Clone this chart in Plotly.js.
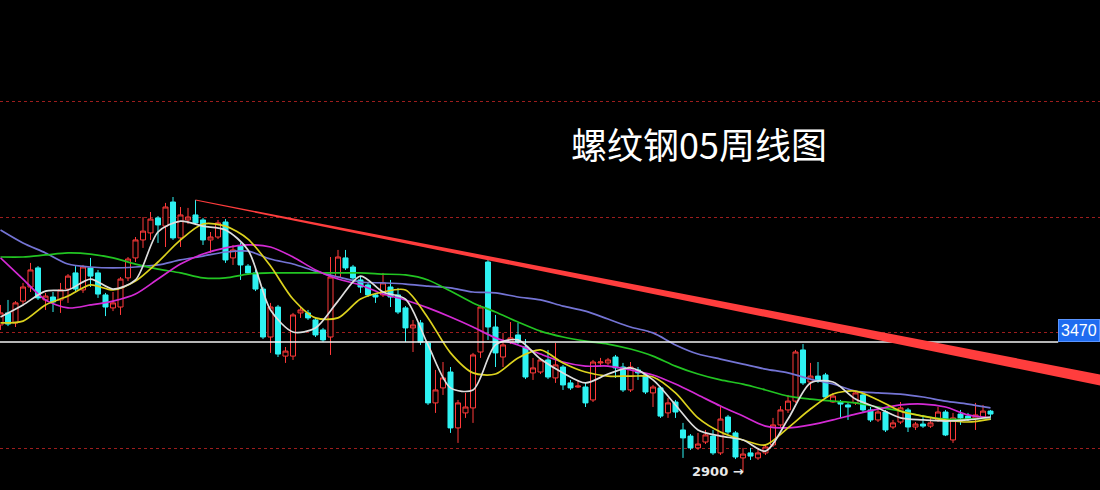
<!DOCTYPE html>
<html>
<head>
<meta charset="utf-8">
<script src="https://cdn.plot.ly/plotly-3.0.1.min.js"></script>
<style>
  html, body { margin: 0; padding: 0; background: #000; }
  #chart { width: 1100px; height: 490px; }
</style>
</head>
<body>
<div id="chart"></div>
<script>
// Weekly OHLC, rebar 05 contract (one entry per week, oldest first)
const open = [3545,3598,3554,3650,3712,3796,3655,3668,3655,3703,3774,3699,3796,3774,3677,3620,3624,3752,3840,3919,
  3950,4016,3980,4086,3928,4007,4029,4007,3919,3932,3998,3840,3892,3804,3774,3703,3492,3624,3408,3408,
  3598,3598,3567,3523,3492,3756,3840,3800,3743,3721,3677,3677,3712,3677,3620,3532,3554,3466,3202,3268,
  3338,3092,3158,3180,3426,3822,3536,3404,3470,3501,3448,3334,3338,3391,3312,3360,3290,3272,3272,3215,
  3378,3378,3404,3360,3259,3347,3325,3246,3268,3158,3206,3083,3056,3004,3030,3056,2982,3140,3070,2960,
  2982,2960,2982,3017,3105,3171,3210,3435,3294,3320,3325,3206,3206,3193,3202,3237,3171,3127,3162,3096,
  3118,3171,3096,3109,3100,3127,3162,3039,3153,3144,3136,3140,3166];
const high = [3633,3655,3650,3730,3818,3804,3686,3690,3730,3769,3804,3809,3840,3787,3686,3690,3756,3844,3932,4020,
  4042,4024,4082,4108,4064,4060,4095,4016,3954,4007,4011,3897,3906,3813,3787,3712,3642,3633,3448,3598,
  3624,3611,3580,3532,3844,3875,3875,3809,3756,3730,3686,3774,3743,3708,3628,3567,3567,3474,3347,3382,
  3360,3215,3246,3422,3633,3831,3589,3510,3558,3554,3483,3400,3400,3435,3466,3369,3303,3303,3294,3391,
  3400,3400,3413,3378,3382,3360,3334,3281,3276,3224,3215,3114,3065,3070,3083,3083,3184,3149,3078,3004,
  3004,3004,3017,3136,3188,3237,3435,3461,3378,3382,3334,3246,3215,3202,3254,3246,3184,3171,3171,3127,
  3206,3180,3118,3149,3136,3184,3171,3158,3171,3158,3202,3193,3171];
const low = [3523,3540,3536,3637,3690,3655,3611,3602,3598,3642,3694,3686,3712,3664,3584,3606,3589,3738,3822,3884,
  3919,3906,3888,3919,3888,3989,3985,3897,3862,3923,3818,3809,3743,3765,3694,3483,3422,3404,3378,3391,
  3576,3567,3492,3470,3413,3752,3787,3743,3686,3668,3642,3668,3624,3593,3470,3426,3457,3193,3158,3237,
  3070,3026,3136,3114,3400,3479,3360,3360,3461,3461,3307,3303,3329,3307,3290,3259,3259,3268,3184,3206,
  3360,3369,3312,3250,3250,3303,3241,3184,3136,3136,3136,2960,2995,2995,3021,2973,2973,3065,2955,2900,
  2951,2951,2973,3008,3096,3158,3202,3281,3259,3290,3219,3202,3136,3127,3193,3162,3118,3118,3074,3087,
  3109,3074,3083,3092,3092,3118,3056,3026,3105,3122,3083,3131,3127];
const close = [3598,3549,3642,3712,3787,3664,3672,3646,3699,3760,3703,3800,3760,3681,3624,3642,3747,3835,3919,3958,
  4011,3985,4064,3928,4029,4020,3994,3919,3932,3994,3831,3875,3809,3774,3703,3492,3624,3417,3430,3589,
  3611,3576,3501,3479,3756,3844,3796,3752,3712,3677,3668,3730,3668,3602,3532,3545,3470,3202,3259,3312,
  3092,3202,3184,3413,3624,3536,3422,3457,3488,3470,3316,3356,3391,3316,3369,3281,3268,3276,3202,3382,
  3382,3391,3356,3259,3360,3334,3250,3272,3144,3202,3162,3048,3004,3021,3061,2982,3131,3074,2964,2977,
  2968,2982,3008,3105,3171,3210,3426,3290,3320,3303,3228,3232,3197,3184,3246,3171,3127,3162,3083,3114,
  3180,3096,3109,3100,3114,3162,3061,3136,3136,3131,3149,3166,3153];

// Moving averages, read every third week
const ma5  = [3580,3633,3694,3699,3747,3703,3743,3954,4002,3980,3963,3875,3611,3514,3532,3650,3760,3690,3659,3457,
  3268,3259,3457,3479,3395,3334,3290,3329,3356,3303,3193,3083,3056,3039,2990,3131,3290,3294,3219,3180,
  3136,3127,3122,3127,3140];
const ma10 = [3554,3562,3633,3672,3721,3699,3738,3822,3919,3989,3980,3923,3804,3659,3576,3576,3659,3690,3699,3576,
  3422,3334,3329,3400,3435,3378,3338,3320,3320,3316,3246,3136,3074,3039,3017,3092,3175,3241,3254,3215,
  3166,3144,3127,3118,3131];
const ma20 = [3840,3747,3655,3620,3633,3650,3681,3747,3813,3857,3884,3897,3888,3844,3787,3747,3721,3681,3655,3620,
  3580,3536,3488,3457,3417,3382,3364,3364,3347,3325,3285,3237,3188,3144,3100,3092,3105,3127,3153,3175,
  3193,3197,3184,3149,3136];
const ma40 = [3844,3844,3853,3862,3857,3840,3813,3791,3774,3752,3752,3769,3774,3774,3774,3774,3774,3769,3765,3743,
  3694,3642,3602,3558,3518,3492,3474,3461,3439,3408,3364,3329,3303,3285,3259,3232,3219,3210,3202,3184,
  3166,3144,3131,3131,3136];
const ma60 = [3963,3906,3862,3813,3800,3796,3800,3809,3831,3848,3866,3870,3835,3813,3782,3756,3734,3730,3725,3716,
  3708,3690,3686,3668,3655,3628,3606,3571,3536,3510,3457,3417,3395,3373,3351,3334,3307,3285,3254,3246,
  3241,3228,3210,3197,3180];

// Price guides and marked levels
const gridLevels = [3000, 3510, 4020, 4530];
const markLevel = 3470;
const lowWeek = 99;
const lowPrice = 2900;
// Resistance line: from the week-27 high towards the right edge
const trendWeeks = [26, 146.6];
const trendPrices = [4095, 3303];

const weeks = open.map((_, k) => k);
const maWeeks = weeks.filter(k => k % 3 === 0);

const xRange = [-0.067, 146.6];
const yRange = [2818.8, 4974.8];
const plotHeightPx = 490;
const pricePerPx = (yRange[1] - yRange[0]) / plotHeightPx;

function maLine(y, color) {
  return {
    type: 'scatter', mode: 'lines', x: maWeeks, y: y,
    line: { color: color, width: 1.7, shape: 'spline', smoothing: 0.8 },
    hoverinfo: 'skip'
  };
}

const traces = [
  {
    type: 'candlestick', x: weeks, open: open, high: high, low: low, close: close,
    increasing: { line: { color: '#ff3a3a', width: 1 }, fillcolor: '#000000' },
    decreasing: { line: { color: '#2ef2f2', width: 1 }, fillcolor: '#2ef2f2' },
    whiskerwidth: 0, hoverinfo: 'skip'
  },
  maLine(ma60, '#7474d4'),
  maLine(ma40, '#22c422'),
  maLine(ma20, '#d42ad4'),
  maLine(ma10, '#dcd21e'),
  maLine(ma5, '#dedede')
];

// Tapered band for the resistance line (thin at its origin, wider to the right)
const halfStart = 0.5 * pricePerPx, halfEnd = 5.5 * pricePerPx;
const trendPath =
  'M' + trendWeeks[0] + ',' + (trendPrices[0] + halfStart) +
  ' L' + trendWeeks[1] + ',' + (trendPrices[1] + halfEnd) +
  ' L' + trendWeeks[1] + ',' + (trendPrices[1] - halfEnd) +
  ' L' + trendWeeks[0] + ',' + (trendPrices[0] - halfStart) + ' Z';

const layout = {
  width: 1100, height: 490,
  margin: { l: 0, r: 0, t: 0, b: 0, pad: 0 },
  paper_bgcolor: '#000000', plot_bgcolor: '#000000',
  showlegend: false,
  boxgap: 0.33, boxgroupgap: 0,
  xaxis: {
    range: xRange, showgrid: false, zeroline: false, showline: false,
    showticklabels: false, ticks: '', rangeslider: { visible: false }, fixedrange: true
  },
  yaxis: {
    range: yRange, tickvals: gridLevels, showticklabels: false, ticks: '',
    showgrid: true, gridcolor: '#9c1d1d', griddash: 'dot', gridwidth: 1,
    zeroline: false, showline: false, fixedrange: true
  },
  shapes: [
    { type: 'line', xref: 'paper', yref: 'y', x0: 0, x1: 0.962, y0: markLevel, y1: markLevel,
      line: { color: '#f2f2f2', width: 1.5 }, layer: 'above' },
    { type: 'path', xref: 'x', yref: 'y', path: trendPath,
      fillcolor: '#ff3d3d', line: { width: 0 }, layer: 'above' }
  ],
  annotations: [
    { xref: 'paper', yref: 'paper', x: 0.6355, y: 0.708, xanchor: 'center', yanchor: 'middle',
      text: '螺纹钢05周线图', showarrow: false,
      font: { family: 'Noto Sans CJK SC, sans-serif', size: 36, color: '#ffffff' } },
    { xref: 'paper', yref: 'y', x: 1, y: markLevel, xanchor: 'right', yanchor: 'bottom',
      text: String(markLevel), showarrow: false, bgcolor: '#1f6cf0', bordercolor: '#5a95ff', borderwidth: 1,
      borderpad: 2, font: { family: 'Liberation Sans, Arial, sans-serif', size: 16, color: '#ffffff' } },
    { xref: 'x', yref: 'y', x: lowWeek, y: lowPrice, xanchor: 'right', yanchor: 'middle',
      text: '<b>' + lowPrice + ' →</b>', showarrow: false, xshift: 3,
      font: { family: 'DejaVu Sans, sans-serif', size: 13, color: '#e8e8e8' } }
  ]
};

Plotly.newPlot('chart', traces, layout, { staticPlot: true, displayModeBar: false });
</script>
</body>
</html>
